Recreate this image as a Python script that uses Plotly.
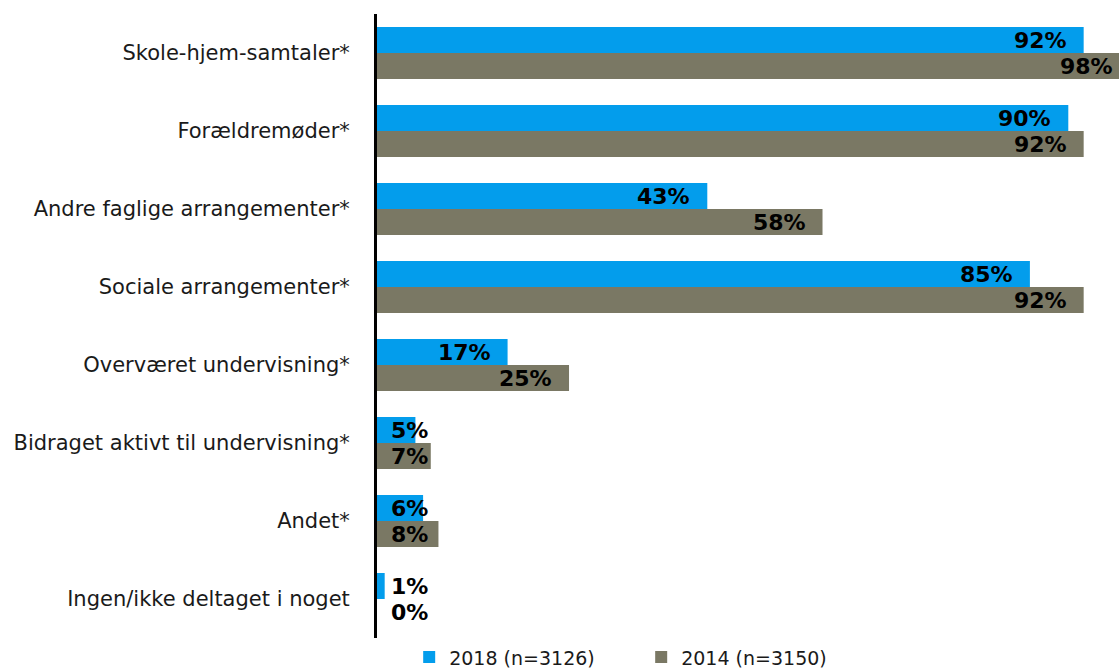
import plotly.graph_objects as go

categories = [
    "Skole-hjem-samtaler*",
    "Forældremøder*",
    "Andre faglige arrangementer*",
    "Sociale arrangementer*",
    "Overværet undervisning*",
    "Bidraget aktivt til undervisning*",
    "Andet*",
    "Ingen/ikke deltaget i noget",
]
values_2018 = [92, 90, 43, 85, 17, 5, 6, 1]
values_2014 = [98, 92, 58, 92, 25, 7, 8, 0]
series_names = ["2018 (n=3126)", "2014 (n=3150)"]
series_colors = ["#039DEC", "#7A7864"]

FONT = "DejaVu Sans, Verdana, sans-serif"
W, H = 1119, 670
M_LEFT, M_RIGHT = 377, 0
X_MAX = 96.6
PX_PER_UNIT = (W - M_LEFT - M_RIGHT) / X_MAX

fig = go.Figure()
for name, vals, color in zip(series_names, [values_2018, values_2014], series_colors):
    fig.add_trace(go.Bar(
        y=categories, x=vals, name=name, orientation="h",
        marker=dict(color=color, line=dict(width=0)),
        hoverinfo="x+y",
    ))

# value labels: inside the bar end, or from the base when the bar is too short;
# bars running past the plot edge keep their label at the visible end
annotations = []
label_font = dict(family=FONT, size=22, color="#000")
for vals, shift in [(values_2018, 13), (values_2014, -13)]:
    for cat, v in zip(categories, vals):
        text = f"<b>{v}%</b>"
        if v >= 10:
            anchor = min(v, X_MAX)
            xshift = -15 + (v - anchor) * PX_PER_UNIT
            annotations.append(dict(x=anchor, y=cat, text=text, showarrow=False,
                                    xanchor="right", xshift=xshift, yshift=shift,
                                    font=label_font))
        else:
            annotations.append(dict(x=0, y=cat, text=text, showarrow=False,
                                    xanchor="left", xshift=12, yshift=shift,
                                    font=label_font))

fig.update_layout(
    width=W, height=H,
    margin=dict(l=M_LEFT, r=M_RIGHT, t=14, b=32, autoexpand=False),
    barmode="group", bargap=0.333, bargroupgap=0,
    plot_bgcolor="white", paper_bgcolor="white",
    font=dict(family=FONT, size=21, color="#1a1a1a"),
    annotations=annotations,
    legend=dict(orientation="h", xref="container", yref="container",
                x=0.573, xanchor="center", y=0.019, yanchor="middle",
                font=dict(size=19, color="#1a1a1a"), entrywidth=187,
                traceorder="normal", itemclick=False),
    xaxis=dict(range=[0, X_MAX], showgrid=False, zeroline=False, showticklabels=False,
               showline=False),
    yaxis=dict(autorange="reversed", showgrid=False, zeroline=False,
               showline=True, linecolor="#000", linewidth=3,
               ticks="outside", ticklen=20, tickcolor="rgba(0,0,0,0)",
               tickfont=dict(size=21, color="#1a1a1a")),
)

fig.write_html("out.html")
